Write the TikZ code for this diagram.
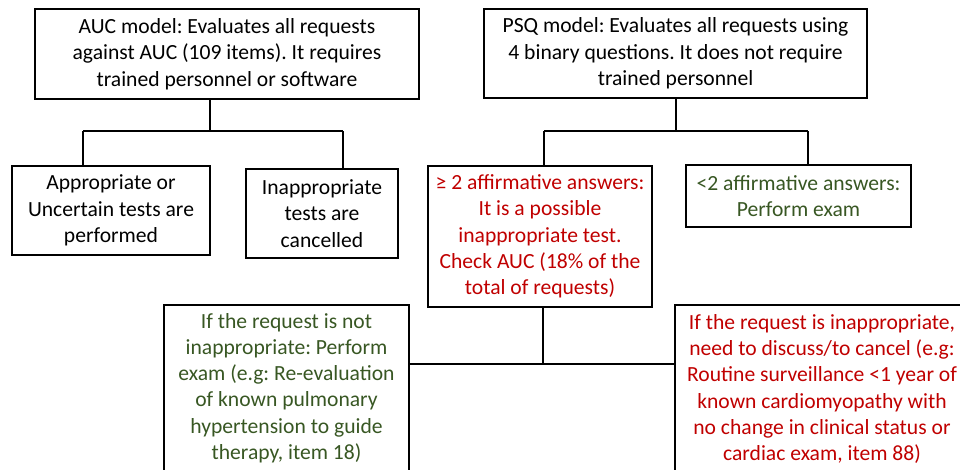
\documentclass[tikz,border=0pt]{standalone}
\usepackage{fontspec}
\setmainfont{Carlito}
\definecolor{rd}{HTML}{C00000}
\definecolor{gn}{HTML}{385723}
\begin{document}
\frenchspacing
\begin{tikzpicture}[x=1pt,y=-1pt,
  box/.style={draw=black,line width=1.5pt,rectangle,align=center,inner sep=0pt,
    font=\fontsize{21.6}{26.3}\selectfont},
  conn/.style={line width=1.5pt,black}]
\useasboundingbox (0,0) rectangle (960,469);
\clip (0,0) rectangle (960,469);
\node[box,minimum width=384pt,minimum height=90pt] (auc) at (227,54)
  {AUC model: Evaluates all requests\\against AUC (109 items). It requires\\trained personnel or software};
\node[box,minimum width=383pt,minimum height=89pt] (psq) at (675.5,53.5)
  {PSQ model: Evaluates all requests using\\4 binary questions. It does not require\\trained personnel};
\node[box,minimum width=198pt,minimum height=89pt] (app) at (111,210.5)
  {Appropriate or\\Uncertain tests are\\performed};
\node[box,minimum width=152pt,minimum height=89pt] (inapp) at (322,213.5)
  {Inappropriate\\tests are\\cancelled};
\node[box,text=rd,minimum width=224pt,minimum height=141pt] (ge) at (540,236.5)
  {≥ 2 affirmative answers:\\It is a possible\\inappropriate test.\\Check AUC (18\% of the\\total of requests)};
\node[box,text=gn,minimum width=225pt,minimum height=62pt] (lt) at (798.5,196)
  {<2 affirmative answers:\\Perform exam};
\node[box,text=gn,minimum width=245pt,minimum height=166pt] (ok) at (286.5,388)
  {If the request is not\\inappropriate: Perform\\exam (e.g: Re-evaluation\\of known pulmonary\\hypertension to guide\\therapy, item 18)};
\node[box,text=rd,minimum width=294pt,minimum height=168pt] (bad) at (822,389)
  {If the request is inappropriate,\\need to discuss/to cancel (e.g:\\Routine surveillance <1 year of\\known cardiomyopathy with\\no change in clinical status or\\cardiac exam, item 88)};
\coordinate (ja) at (210,131);
\coordinate (jal) at (83,131);
\coordinate (jar) at (343,131);
\coordinate (jp) at (676,131);
\coordinate (jpl) at (544,131);
\coordinate (jpr) at (808,131);
\coordinate (jg) at (543,364);
\draw[conn] (auc.south -| ja) -- (ja);
\draw[conn] (jal) -- (jar);
\draw[conn] (jal) -- (app.north -| jal);
\draw[conn] (jar) -- (inapp.north -| jar);
\draw[conn] (psq.south -| jp) -- (jp);
\draw[conn] (jpl) -- (jpr);
\draw[conn] (jpl) -- (ge.north -| jpl);
\draw[conn] (jpr) -- (lt.north -| jpr);
\draw[conn] (ge.south -| jg) -- (jg);
\draw[conn] (ok.east |- jg) -- (bad.west |- jg);
\end{tikzpicture}
\end{document}
